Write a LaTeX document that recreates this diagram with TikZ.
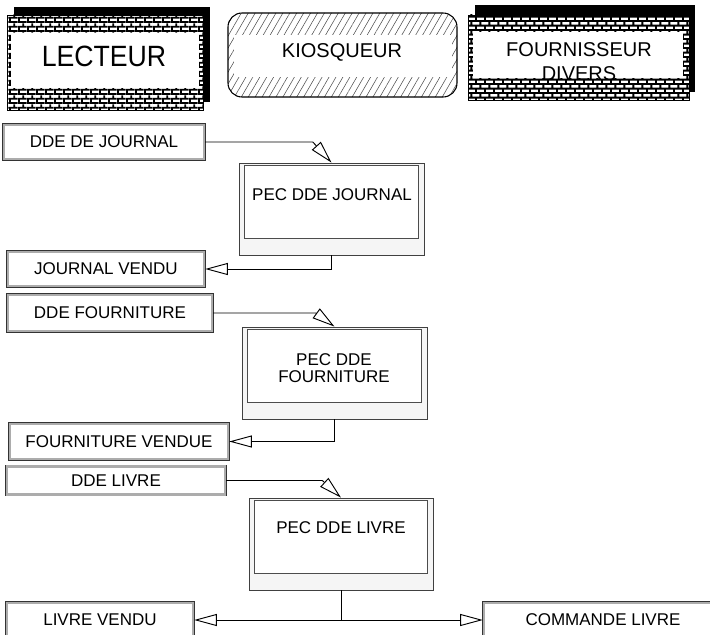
\documentclass[tikz,border=0pt]{standalone}
\usepackage{fontspec}
\setmainfont{Liberation Sans}
\usetikzlibrary{arrows.meta,patterns,patterns.meta}

\pgfdeclarepatternformonly{wallbricks}{\pgfpointorigin}{\pgfpoint{7pt}{7pt}}{\pgfpoint{7pt}{7pt}}{
  \pgfsetlinewidth{1.5pt}
  \pgfpathmoveto{\pgfpoint{0pt}{0.75pt}}\pgfpathlineto{\pgfpoint{7pt}{0.75pt}}
  \pgfpathmoveto{\pgfpoint{0pt}{4.25pt}}\pgfpathlineto{\pgfpoint{7pt}{4.25pt}}
  \pgfpathmoveto{\pgfpoint{0.75pt}{0.75pt}}\pgfpathlineto{\pgfpoint{0.75pt}{4.25pt}}
  \pgfpathmoveto{\pgfpoint{4.25pt}{4.25pt}}\pgfpathlineto{\pgfpoint{4.25pt}{7pt}}
  \pgfpathmoveto{\pgfpoint{4.25pt}{0pt}}\pgfpathlineto{\pgfpoint{4.25pt}{0.75pt}}
  \pgfusepath{stroke}
}

\tikzset{
  msg/.style={draw=gray!65, line width=1.8pt, preaction={draw=gray!40!black, line width=2.6pt},
    fill=white, inner sep=0pt, font=\fontsize{12.75}{15}\selectfont},
  pec/.style={draw=black!75, fill=gray!8, line width=0.6pt, inner sep=0pt},
  pecin/.style={draw=black!70, fill=white, line width=0.6pt},
  flow/.style={draw=black, line width=0.7pt, -{Triangle[open, length=17pt, width=9pt]}},
  wall/.style={draw=black, preaction={fill=white}, pattern=wallbricks},
  actor/.style={font=\fontsize{15}{18}\selectfont, align=center},
}

\begin{document}
\begin{tikzpicture}[x=0.75pt, y=-0.75pt]
    \clip (0,0) rectangle (710,635);

    % acteurs
    \fill (14,7) rectangle (210,102);
    \path[wall] (7,15) rectangle (203,110);
    \node[fill=white, minimum width=141pt, minimum height=41.25pt] (lecteur) at (105,60.5) {};
    \node[font=\fontsize{20}{24}\selectfont, yscale=1.1] (lecteurLabel) at (104,56) {LECTEUR};

    \path[draw, line width=0.8pt, rounded corners=10.5pt, preaction={fill=white},
      pattern={Lines[angle=60, distance=4.5pt, line width=0.4pt]}, pattern color=black!70]
      (228,13) rectangle (457,97);
    \node[fill=white, minimum width=163.5pt, minimum height=31.5pt] (kiosqueur) at (343,56) {};
    \node[actor] (kiosqueurLabel) at (342,52) {KIOSQUEUR};

    \fill (475,5) rectangle (695,92);
    \path[wall] (468,15) rectangle (689,100);
    \node[fill=white, minimum width=157.5pt, minimum height=34.5pt] (fournisseur) at (578,55) {};
    \begin{scope}
        \clip (fournisseur.south west) rectangle (fournisseur.north east);
        \node[actor] (fournisseurLabel) at (579,62) {FOURNISSEUR\\DIVERS};
    \end{scope}

    % messages
    \node[msg, minimum width=150pt, minimum height=25.5pt] (ddeJournal) at (104,142) {DDE DE JOURNAL};
    \node[msg, minimum width=147pt, minimum height=25.5pt] (journalVendu) at (106,269) {JOURNAL VENDU};
    \node[msg, minimum width=153pt, minimum height=27pt] (ddeFourniture) at (110,313) {DDE FOURNITURE};
    \node[msg, minimum width=163.5pt, minimum height=26.25pt] (fournitureVendue) at (119,441.5) {FOURNITURE VENDUE};
    \node[msg, minimum width=163.5pt, minimum height=21pt] (ddeLivre) at (116,480.5) {DDE LIVRE};
    \node[msg, minimum width=139.5pt, minimum height=25.5pt] (livreVendu) at (100,620) {LIVRE VENDU};
    \node[msg, minimum width=178.5pt, minimum height=25.5pt] (commandeLivre) at (603,620) {COMMANDE LIVRE};

    % traitements
    \node[pec, minimum width=138.75pt, minimum height=69pt] (pecJournal) at (331.5,209) {};
    \node[pec, minimum width=138.75pt, minimum height=69pt] (pecFourniture) at (334.5,373) {};
    \node[pec, minimum width=138pt, minimum height=69pt] (pecLivre) at (341,544) {};
    \foreach \p in {pecJournal,pecFourniture,pecLivre}
        \draw[pecin] ([shift={(6,3)}]\p.north west) rectangle ([shift={(-6,-17)}]\p.south east);
    \node[font=\fontsize{12.75}{15}\selectfont] (pecJournalLabel) at (332,195) {PEC DDE JOURNAL};
    \node[font=\fontsize{12.75}{12.75}\selectfont, align=center] (pecFournitureLabel) at (334,368.5) {PEC DDE\\FOURNITURE};
    \node[font=\fontsize{12.75}{15}\selectfont] (pecLivreLabel) at (341,528) {PEC DDE LIVRE};

    % flux
    \draw[flow] (ddeJournal.east) -- ([xshift=-14pt]pecJournal.north |- ddeJournal.east) -- (pecJournal.north);
    \draw[flow] (pecJournal.south) |- (journalVendu.east);
    \draw[flow] (ddeFourniture.east) -- ([xshift=-14pt]pecFourniture.north |- ddeFourniture.east) -- (pecFourniture.north);
    \draw[flow] (pecFourniture.south) |- (fournitureVendue.east);
    \draw[flow] (ddeLivre.east) -- ([xshift=-14pt]pecLivre.north |- ddeLivre.east) -- (pecLivre.north);
    \draw[flow] (pecLivre.south) |- (livreVendu.east);
    \draw[flow] (pecLivre.south) |- (commandeLivre.west);
\end{tikzpicture}
\end{document}
